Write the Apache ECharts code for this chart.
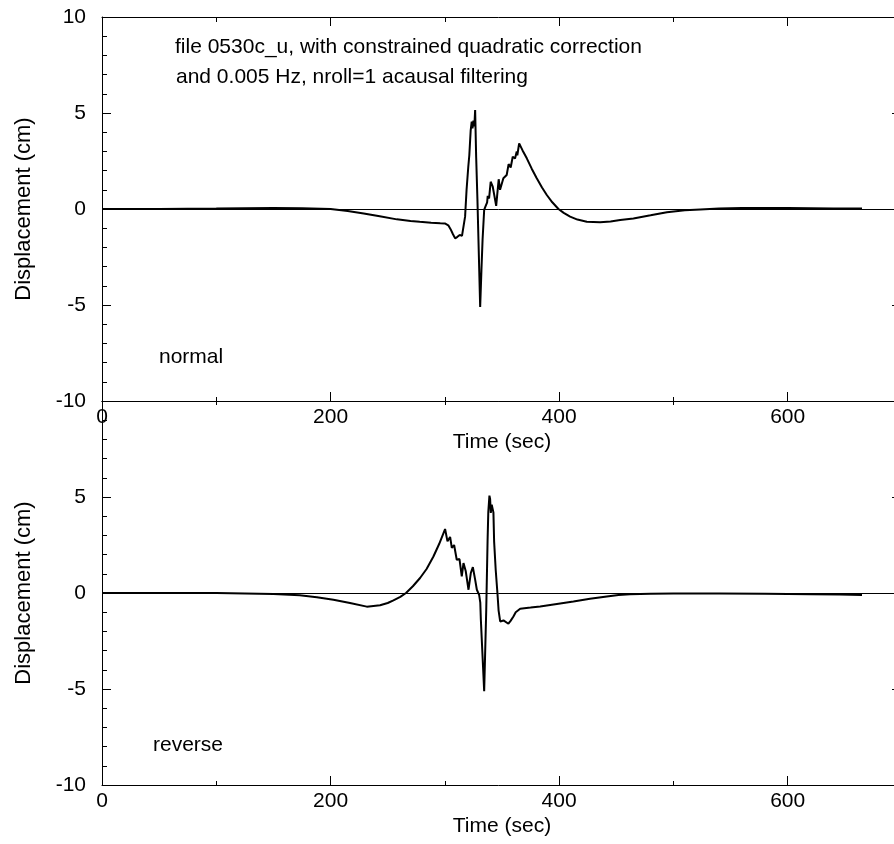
<!DOCTYPE html>
<html>
<head>
<meta charset="utf-8">
<script src="https://cdn.jsdelivr.net/npm/echarts@6/dist/echarts.min.js"></script>
<style>html,body{margin:0;padding:0;background:#fff}#c{width:894px;height:844px}</style>
</head>
<body>
<div id="c"></div>
<script>
// ---- data ----
const normalTime = [0, 50, 100, 150, 175, 200, 215, 229, 243, 258, 270, 278, 288, 296, 300, 303, 305, 307, 309, 311, 313, 315, 316, 317.7, 319, 320.5, 321.4, 322.6, 323.5, 324.2, 325, 325.8, 326.5, 327.4, 328.5, 329.4, 330.9, 332, 333, 334.4, 335.3, 336.2, 337, 337.5, 338.7, 340.1, 341.9, 343, 344.9, 347.1, 348.3, 349.7, 351.2, 352.7, 354.1, 355.8, 357.6, 359.4, 361.4, 362.9, 363.4, 365, 368, 371.7, 376, 380.4, 385, 389.2, 394, 399.4, 404, 409.6, 416, 424.2, 435.8, 445, 453.4, 465, 480, 494.3, 510, 523.5, 540, 560, 580, 600, 620, 640, 665];
const normalDisp = [0, 0, 0.02, 0.05, 0.04, 0, -0.1, -0.23, -0.38, -0.54, -0.62, -0.67, -0.71, -0.74, -0.75, -0.85, -1.05, -1.3, -1.53, -1.45, -1.35, -1.4, -1.35, -0.4, 1.0, 2.2, 2.8, 4.1, 4.55, 4.2, 4.6, 4.3, 5.15, 2.7, 0.5, -1.6, -5.1, -3.2, -1.6, -0.05, 0.1, 0.2, 0.35, 0.68, 0.55, 1.42, 1.16, 0.8, 0.16, 1.55, 1.0, 0.9, 1.6, 1.5, 1.77, 2.34, 2.16, 2.72, 2.63, 2.99, 2.8, 3.42, 3.05, 2.64, 2.1, 1.6, 1.12, 0.73, 0.35, 0, -0.2, -0.4, -0.55, -0.66, -0.69, -0.65, -0.57, -0.49, -0.33, -0.17, -0.07, -0.02, 0.02, 0.05, 0.05, 0.05, 0.04, 0.03, 0.02];

const reverseTime = [0, 50, 100, 125, 150, 173, 188, 202.5, 217, 231.7, 243.3, 250, 255, 261, 266, 272, 278.3, 284, 290, 295, 300.2, 302.3, 304.6, 306.1, 308.1, 310.4, 312.8, 314.8, 316.3, 318.3, 320.7, 322.7, 324.5, 326.5, 328, 330, 331, 331.5, 334.4, 336.2, 337.4, 338, 339, 339.6, 340.2, 341, 341.7, 342.5, 343.1, 344.5, 346, 347, 348.4, 350, 351.3, 353, 355.6, 357.5, 360, 362, 365.9, 375, 383.4, 398, 412.5, 427, 441.7, 452, 462, 480, 500, 540, 580, 620, 645, 665];
const reverseDisp = [0, 0, 0, -0.02, -0.05, -0.12, -0.22, -0.35, -0.52, -0.71, -0.64, -0.52, -0.38, -0.2, 0, 0.35, 0.78, 1.25, 1.9, 2.55, 3.33, 2.69, 2.92, 2.35, 2.5, 1.73, 1.77, 0.86, 1.56, 1.13, 0.17, 1.04, 1.35, 0.7, 0.17, -0.1, -0.5, -1.39, -5.12, -0.9, 2.78, 4.2, 5.07, 4.9, 4.17, 4.6, 4.5, 4.2, 2.69, 1.2, 0, -0.9, -1.48, -1.42, -1.43, -1.5, -1.6, -1.45, -1.22, -1.0, -0.82, -0.76, -0.7, -0.57, -0.44, -0.3, -0.18, -0.1, -0.06, -0.04, -0.03, -0.03, -0.04, -0.06, -0.08, -0.1];

const xTickLabels = [0, 200, 400, 600];
const yTickLabels = [-10, -5, 0, 5, 10];
const noteLines = ['file 0530c_u, with constrained quadratic correction', 'and 0.005 Hz, nroll=1 acausal filtering'];
const panelNames = ['normal', 'reverse'];
const xTitle = 'Time (sec)';
const yTitle = 'Displacement (cm)';

// ---- chart ----
const FONT = '"Liberation Sans", Arial, sans-serif';
const FS = 21;
const chart = echarts.init(document.getElementById('c'), null, {renderer: 'canvas'});

function xAxisBottom(gi) {
  return {
    gridIndex: gi, type: 'value', position: 'bottom', min: 0, max: 700, interval: 200,
    axisLine: {onZero: false, lineStyle: {color: '#000', width: 1}},
    axisTick: {inside: true, length: 9, lineStyle: {color: '#000'}},
    minorTick: {show: true, splitNumber: 2, length: 4, lineStyle: {color: '#000'}},
    splitLine: {show: false}, minorSplitLine: {show: false},
    axisLabel: {
      margin: 6, color: '#000', fontFamily: FONT, fontSize: FS,
      formatter: v => xTickLabels.indexOf(v) >= 0 ? String(v) : ''
    },
    name: xTitle, nameLocation: 'middle', nameGap: 31,
    nameTextStyle: {color: '#000', fontFamily: FONT, fontSize: FS}
  };
}
function xAxisTop(gi, major) {
  return {
    gridIndex: gi, type: 'value', position: 'top', min: 0, max: 700, interval: 200,
    axisLine: {onZero: false, lineStyle: {color: '#000', width: 1}},
    axisTick: {show: major, inside: true, length: 9, lineStyle: {color: '#000'}},
    minorTick: {show: true, splitNumber: 2, length: major ? 5 : 4, lineStyle: {color: '#000'}},
    splitLine: {show: false}, minorSplitLine: {show: false},
    axisLabel: {show: false}
  };
}
function yAxisLeft(gi, hideTop) {
  return {
    gridIndex: gi, type: 'value', position: 'left', min: -10, max: 10, interval: 5,
    axisLine: {onZero: false, lineStyle: {color: '#000', width: 1}},
    axisTick: {inside: true, length: 9, lineStyle: {color: '#000'}},
    minorTick: {show: true, splitNumber: 5, length: 5, lineStyle: {color: '#000'}},
    splitLine: {show: false}, minorSplitLine: {show: false},
    axisLabel: {
      margin: 16, color: '#000', fontFamily: FONT, fontSize: FS,
      formatter: v => (yTickLabels.indexOf(v) >= 0 && !(hideTop && v === 10)) ? String(v) : ''
    },
    name: yTitle, nameLocation: 'middle', nameGap: 67,
    nameTextStyle: {color: '#000', fontFamily: FONT, fontSize: 22}
  };
}
function yAxisRight(gi) {
  return {
    gridIndex: gi, type: 'value', position: 'right', min: -10, max: 10, interval: 5,
    axisLine: {onZero: false, lineStyle: {color: '#000', width: 1}},
    axisTick: {inside: true, length: 10, lineStyle: {color: '#000'}},
    minorTick: {show: false},
    splitLine: {show: false},
    axisLabel: {show: false}
  };
}
function lineSeries(xi, yi, ts, vs) {
  return {
    type: 'line', xAxisIndex: xi, yAxisIndex: yi,
    data: ts.map((t, i) => [t, vs[i]]),
    showSymbol: false, symbol: 'none', smooth: false,
    lineStyle: {color: '#000', width: 2},
    markLine: {
      silent: true, symbol: ['none', 'none'], label: {show: false},
      lineStyle: {color: '#000', width: 1, type: 'solid'},
      data: [{yAxis: 0}]
    },
    z: 3
  };
}

function txt(s, x, y) {
  return {type: 'text', x: x, y: y, style: {text: s, fill: '#000', font: FS + 'px ' + FONT, align: 'left', verticalAlign: 'middle'}};
}

chart.setOption({
  animation: false,
  backgroundColor: '#fff',
  grid: [
    {left: 102, right: -8, top: 17, height: 384, outerBoundsMode: 'none', containLabel: false},
    {left: 102, right: -8, top: 401, height: 384, outerBoundsMode: 'none', containLabel: false}
  ],
  xAxis: [xAxisBottom(0), xAxisTop(0, true), xAxisBottom(1), xAxisTop(1, false)],
  yAxis: [yAxisLeft(0, false), yAxisLeft(1, true), yAxisRight(0), yAxisRight(1)],
  series: [
    lineSeries(0, 0, normalTime, normalDisp),
    lineSeries(2, 1, reverseTime, reverseDisp)
  ],
  graphic: [
    txt(noteLines[0], 175, 47),
    txt(noteLines[1], 176, 77),
    txt(panelNames[0], 159, 357),
    txt(panelNames[1], 153, 745)
  ]
});
</script>
</body>
</html>
